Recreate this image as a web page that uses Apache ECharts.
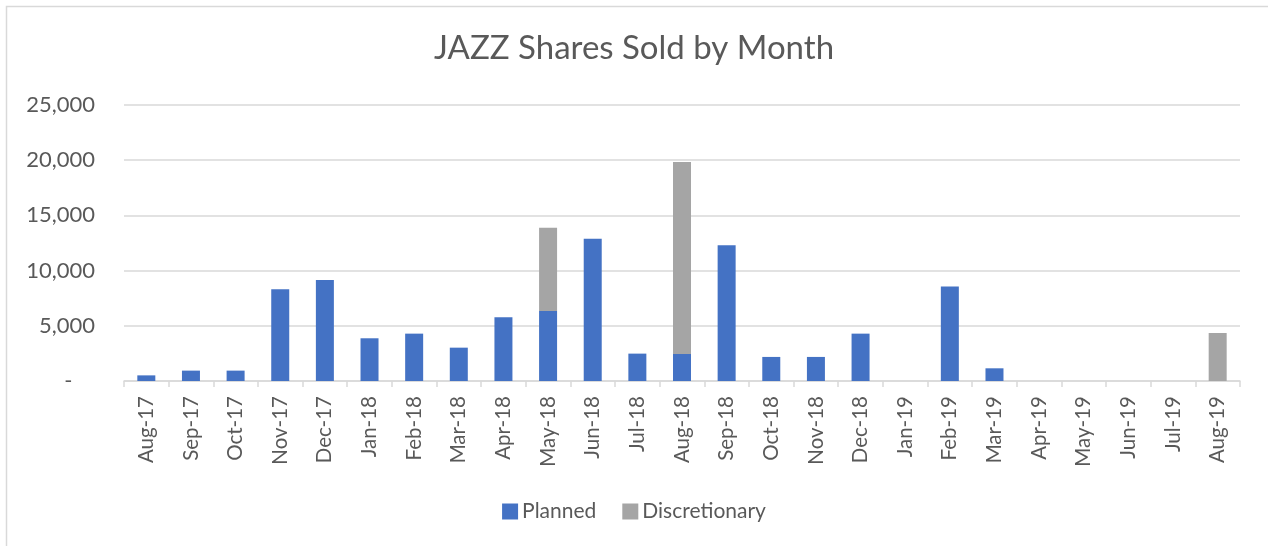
<!DOCTYPE html>
<html>
<head>
<meta charset="utf-8">
<script src="https://cdn.jsdelivr.net/npm/echarts@6/dist/echarts.min.js"></script>
<style>
html,body{margin:0;padding:0;background:#fff;}
#chart{width:1268px;height:546px;}
</style>
</head>
<body>
<div id="chart"></div>
<script>
const categories = ['Aug-17','Sep-17','Oct-17','Nov-17','Dec-17','Jan-18','Feb-18','Mar-18','Apr-18','May-18','Jun-18','Jul-18','Aug-18','Sep-18','Oct-18','Nov-18','Dec-18','Jan-19','Feb-19','Mar-19','Apr-19','May-19','Jun-19','Jul-19','Aug-19'];
const planned = [510, 940, 940, 8300, 9150, 3870, 4290, 3020, 5770, 6340, 12880, 2480, 2450, 12300, 2180, 2180, 4290, 0, 8550, 1150, 0, 0, 0, 0, 0];
const discretionary = [0, 0, 0, 0, 0, 0, 0, 0, 0, 7540, 0, 0, 17380, 0, 0, 0, 0, 0, 0, 0, 0, 0, 0, 0, 4350];
const yTicks = [0, 5000, 10000, 15000, 20000, 25000];
const titleText = 'JAZZ Shares Sold by Month';

const FONT = 'Lato';
const TXT = '#595959';
const chart = echarts.init(document.getElementById('chart'), null, {renderer:'canvas'});
chart.setOption({
  animation:false,
  backgroundColor:'#fff',
  graphic:[{type:'rect', shape:{x:6.5,y:6.5,width:1300,height:600}, style:{fill:'none', stroke:'#D9D9D9', lineWidth:1.5}, silent:true}],
  title:{text:titleText, left:'center', top:27, textStyle:{fontFamily:FONT, fontSize:33, fontWeight:'normal', color:TXT}},
  legend:{bottom:19, left:'center', itemWidth:16, itemHeight:16, itemGap:26, icon:'rect',
    textStyle:{fontFamily:FONT, fontSize:21, color:TXT, padding:[0,0,0,-1]}},
  grid:{left:124, right:28, top:105, bottom:165},
  xAxis:{type:'category', data:categories,
    axisLine:{lineStyle:{color:'#D9D9D9', width:1.5}},
    axisTick:{show:true, alignWithLabel:false, length:6, lineStyle:{color:'#D9D9D9', width:1.5}},
    axisLabel:{rotate:90, interval:0, margin:15, fontFamily:FONT, fontSize:20.5, color:TXT}},
  yAxis:{type:'value', min:yTicks[0], max:yTicks[yTicks.length-1], interval:5000,
    axisLine:{show:false}, axisTick:{show:false},
    splitLine:{lineStyle:{color:'#D9D9D9', width:1.5}},
    axisLabel:{margin:29, fontFamily:FONT, fontSize:22, color:TXT,
      formatter:v => v === 0 ? '-    ' : v.toLocaleString('en-US')}},
  series:[
    {name:'Planned', type:'bar', stack:'s', data:planned, barWidth:18, itemStyle:{color:'#4472C4'}},
    {name:'Discretionary', type:'bar', stack:'s', data:discretionary, barWidth:18, itemStyle:{color:'#A5A5A5'}}
  ]
});
</script>
</body>
</html>
